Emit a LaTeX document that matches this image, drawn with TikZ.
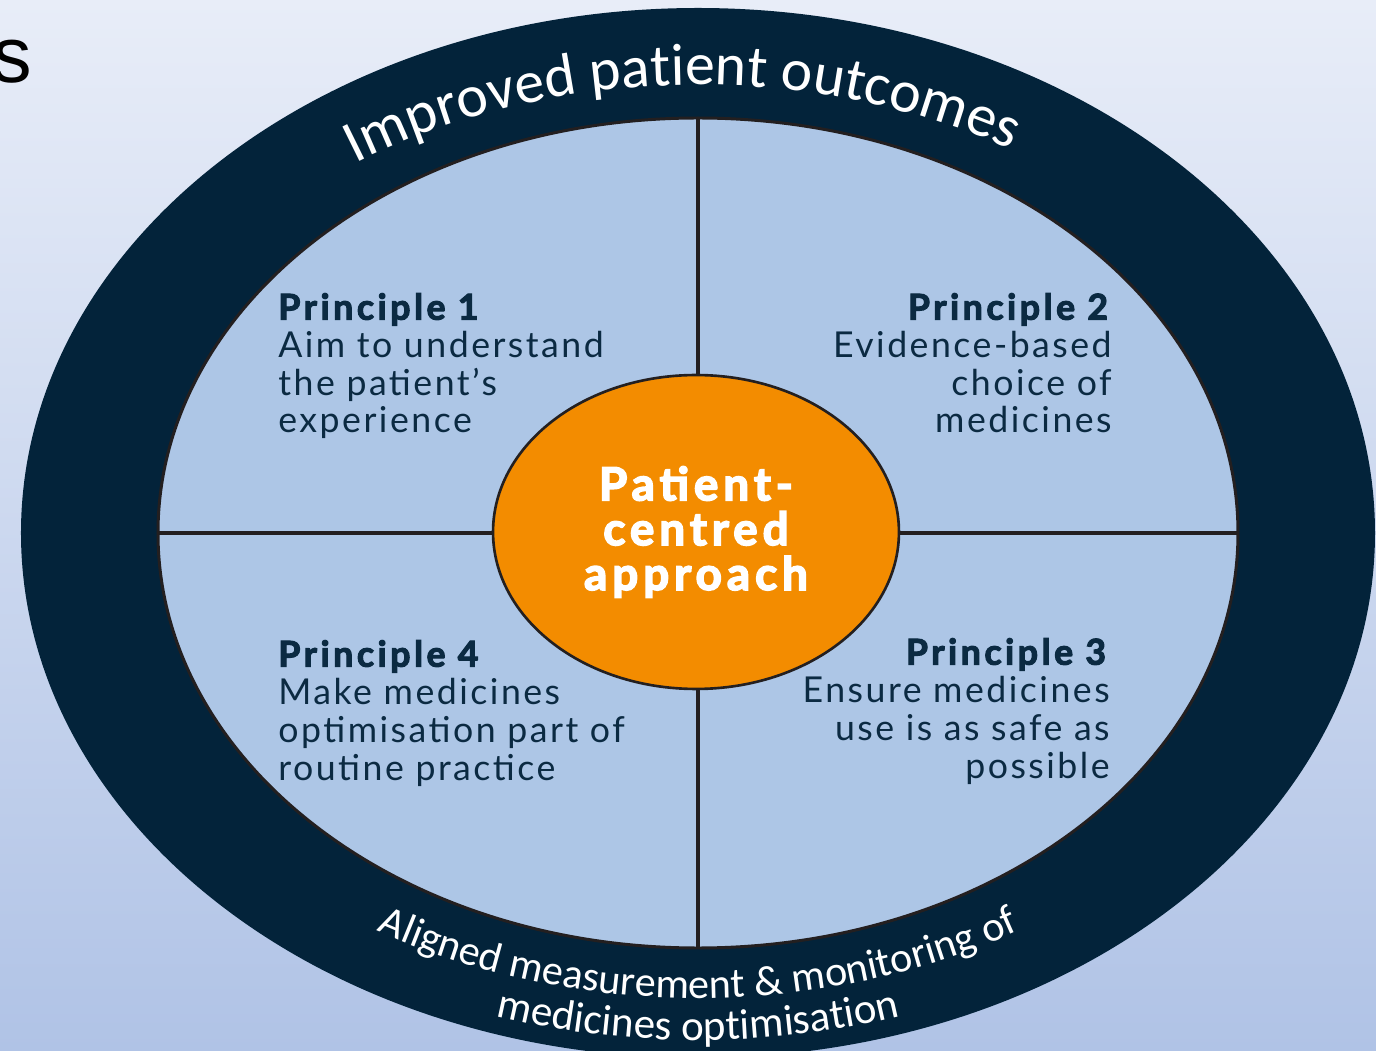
\documentclass[tikz,border=0pt]{standalone}
\usepackage{fontspec}
\usepackage{tikz}
\usetikzlibrary{shapes.geometric, decorations.text}
\setmainfont{Lato}
\newfontfamily\carlito{Carlito}
\newfontfamily\arialfont{Liberation Sans}
\newfontfamily\latotext[LetterSpace=7, BoldFeatures={FakeBold=3, LetterSpace=10}]{Lato}
\newfontfamily\latowide[LetterSpace=11, BoldFeatures={FakeBold=3.5, LetterSpace=11}]{Lato}
\definecolor{bgtop}{RGB}{232,237,248}
\definecolor{bgbot}{RGB}{176,195,230}
\definecolor{navy}{RGB}{3,35,58}
\definecolor{quad}{RGB}{173,198,230}
\definecolor{amber}{RGB}{243,140,0}
\definecolor{rim}{RGB}{35,31,32}
\definecolor{ink}{RGB}{11,42,66}
\tikzset{
  principle/.style={inner sep=0pt, text=ink, font=\latotext\fontsize{20.3}{21.5}\selectfont},
  bandtext/.style={decorate, decoration={text along path, text align=center, text color=white}},
}

\begin{document}
\begin{tikzpicture}[x=0.02cm, y=0.02cm]
    \useasboundingbox (-698,-518) rectangle (678,533);
    \shade[top color=bgtop, bottom color=bgbot] (-698,-518) rectangle (678,533);
    \def\outer{(0,0) ellipse (677 and 525)};
    \def\inner{(0,0) ellipse (540 and 415)};
    \node[inner sep=0pt, anchor=base east, font=\arialfont\fontsize{45}{50}\selectfont] (title) at (-666,450) {s};
    \fill[navy]\outer;
    \filldraw[fill=quad, draw=rim, line width=1.7pt]\inner;
    \draw[rim, line width=2.4pt] (0,415) -- (0,-415);
    \draw[rim, line width=2.4pt] (-540,0) -- (540,0);
    \node[ellipse, fill=amber, draw=rim, line width=1.5pt, minimum width=8.12cm, minimum height=6.28cm, inner sep=0pt,
      text=white, align=center, font=\latowide\bfseries\fontsize{26}{25.5}\selectfont] (core) at (-2,1) {Patient-\\centred\\approach};
    \node[principle, anchor=base west, align=left] (p1) at (-420,100) {\textbf{Principle 1}\\Aim to understand\\the patient’s\\experience};
    \node[principle, anchor=base east, align=right] (p2) at (414,100) {\textbf{Principle 2}\\Evidence-based\\choice of\\medicines};
    \node[principle, anchor=base east, align=right] (p3) at (412,-245) {\textbf{Principle 3}\\Ensure medicines\\use is as safe as\\possible};
    \node[principle, anchor=base west, align=left] (p4) at (-420,-247) {\textbf{Principle 4}\\Make medicines\\optimisation part of\\routine practice};
    \path[bandtext, decoration={text={|\carlito\fontsize{34}{34}\selectfont|Improved patient outcomes}}]
      (164:605 and 448) arc (164:20:605 and 448);
    \path[bandtext, decoration={text={|\carlito\fontsize{24}{24}\selectfont|Aligned measurement {\&} monitoring of}}]
      (196:620 and 465) arc (196:344:620 and 465);
    \path[bandtext, decoration={text={|\carlito\fontsize{24.5}{24.5}\selectfont|medicines optimisation}}]
      (200:670 and 507) arc (200:340:670 and 507);
\end{tikzpicture}
\end{document}
